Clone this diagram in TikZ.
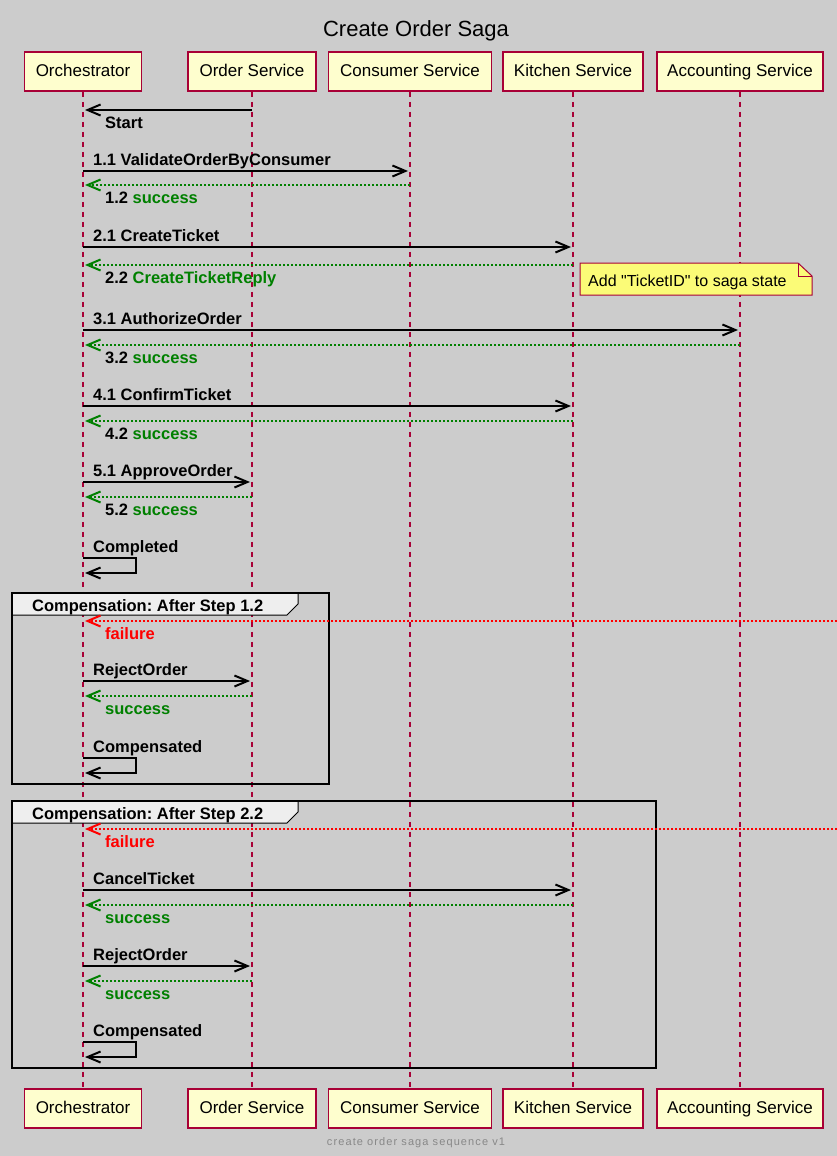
\documentclass[tikz,border=0pt]{standalone}
\usepackage{fontspec}
\setmainfont{Liberation Sans}
\newfontfamily\notefont{Liberation Sans}[Ligatures=TeXOff]
\usetikzlibrary{arrows.meta,calc}
\definecolor{umlred}{HTML}{A80036}
\definecolor{umlbox}{HTML}{FEFECE}
\definecolor{umlnote}{HTML}{FBFB77}
\definecolor{umlbg}{HTML}{CCCCCC}
\definecolor{umlgreen}{HTML}{008000}
\definecolor{umltab}{HTML}{EEEEEE}
\definecolor{umlfoot}{HTML}{888888}
\tikzset{>={Straight Barb[length=13pt,width=11pt,line width=2pt]}}
\tikzstyle{actor}=[rectangle,draw=umlred,fill=umlbox,line width=1.5pt,minimum height=39pt,inner sep=0pt,text height=12.5pt,text depth=3.5pt,font=\fontsize{17}{20}\selectfont]
\tikzstyle{lifeline}=[color=umlred,line width=1.2pt,dash pattern=on 5pt off 5pt]
\tikzstyle{call}=[->,color=black,line width=1.2pt,shorten >=2pt]
\tikzstyle{reply}=[->,color=umlgreen,line width=1.2pt,dash pattern=on 2pt off 2pt,shorten >=2pt]
\tikzstyle{fail}=[->,color=red,line width=1.2pt,dash pattern=on 2pt off 2pt,shorten >=2pt]
\tikzstyle{lbl}=[anchor=base west,inner sep=0pt,font=\fontsize{16.5}{19}\selectfont\bfseries]
\tikzstyle{grouptab}=[draw=black,fill=umltab,line width=1pt]
\tikzstyle{groupframe}=[draw=black,line width=2.2pt]

\begin{document}
\frenchspacing
\begin{tikzpicture}[x=1pt,y=-1pt]
	\fill[umlbg] (0,0) rectangle (837,1156);
	\useasboundingbox (0,0) rectangle (837,1156);

	\node[font=\fontsize{22}{26}\selectfont] (title) at (416,30.5) {Create Order Saga};

	% participants, top and bottom
	\foreach \name/\x/\w/\txt in {orch/83/117/Orchestrator, order/252/128/Order Service, consumer/410/163/Consumer Service, kitchen/573/140/Kitchen Service, accounting/740/166/Accounting Service} {
		\node[actor,minimum width=\w pt] (\name T) at (\x,71.5) {\txt};
		\node[actor,minimum width=\w pt] (\name B) at (\x,1108.5) {\txt};
	}
	\foreach \name in {orch,order,consumer,kitchen,accounting}
		\draw[lifeline] (\name T) -- (\name B);

	% message rows on every lifeline
	\foreach \p/\x in {o/83, s/252, c/410, k/573, a/740}
		\foreach \y in {110,171,185,247,265,330,345,406,421,482,497,558,573,621,681,696,758,773,829,890,905,966,981,1042,1057}
			\coordinate (\p\y) at (\x,\y);
	\coordinate (edge621) at (837,621);
	\coordinate (edge829) at (837,829);

	% main flow
	\draw[call] (s110) -- (o110);
	\node[lbl] (start) at (105,128) {Start};

	\draw[call] (o171) -- (c171);
	\node[lbl] (m11) at (93,165) {1.1 ValidateOrderByConsumer};
	\draw[reply] (c185) -- (o185);
	\node[lbl] (m12) at (105,203) {1.2 \textcolor{umlgreen}{success}};

	\draw[call] (o247) -- (k247);
	\node[lbl] (m21) at (93,241) {2.1 CreateTicket};
	\draw[reply] (k265) -- (o265);
	\node[lbl] (m22) at (105,283) {2.2 \textcolor{umlgreen}{CreateTicketReply}};

	\draw[draw=umlred,fill=umlnote,line width=1pt] (580,263) -- (798,263) -- (812,276) -- (812,295) -- (580,295) -- cycle;
	\draw[draw=umlred,line width=1pt] (798,263) -- (798,276) -- (812,276);
	\node[anchor=base west,inner sep=0pt,font=\notefont\fontsize{16}{19}\selectfont] (ticketnote) at (588,286) {Add "TicketID" to saga state};

	\draw[call] (o330) -- (a330);
	\node[lbl] (m31) at (93,324) {3.1 AuthorizeOrder};
	\draw[reply] (a345) -- (o345);
	\node[lbl] (m32) at (105,363) {3.2 \textcolor{umlgreen}{success}};

	\draw[call] (o406) -- (k406);
	\node[lbl] (m41) at (93,400) {4.1 ConfirmTicket};
	\draw[reply] (k421) -- (o421);
	\node[lbl] (m42) at (105,439) {4.2 \textcolor{umlgreen}{success}};

	\draw[call] (o482) -- (s482);
	\node[lbl] (m51) at (93,476) {5.1 ApproveOrder};
	\draw[reply] (s497) -- (o497);
	\node[lbl] (m52) at (105,515) {5.2 \textcolor{umlgreen}{success}};

	\draw[call] (o558) -- ++(53,0) |- (o573);
	\node[lbl] (done) at (93,552) {Completed};

	% compensation after 1.2
	\draw[grouptab] (12,593) -- (298,593) -- (298,604) -- (287,615) -- (12,615) -- cycle;
	\draw[groupframe] (12,593) rectangle (329,784);
	\node[lbl] (comp1) at (32,611) {Compensation: After Step 1.2};

	\draw[fail] (edge621) -- (o621);
	\node[lbl,text=red] (fail1) at (105,639) {failure};
	\draw[call] (o681) -- (s681);
	\node[lbl] (reject1) at (93,675) {RejectOrder};
	\draw[reply] (s696) -- (o696);
	\node[lbl,text=umlgreen] (ok1) at (105,714) {success};
	\draw[call] (o758) -- ++(53,0) |- (o773);
	\node[lbl] (undone1) at (93,752) {Compensated};

	% compensation after 2.2
	\draw[grouptab] (12,801) -- (298,801) -- (298,812) -- (287,823) -- (12,823) -- cycle;
	\draw[groupframe] (12,801) rectangle (656,1068);
	\node[lbl] (comp2) at (32,819) {Compensation: After Step 2.2};

	\draw[fail] (edge829) -- (o829);
	\node[lbl,text=red] (fail2) at (105,847) {failure};
	\draw[call] (o890) -- (k890);
	\node[lbl] (cancel2) at (93,884) {CancelTicket};
	\draw[reply] (k905) -- (o905);
	\node[lbl,text=umlgreen] (ok2) at (105,923) {success};
	\draw[call] (o966) -- (s966);
	\node[lbl] (reject2) at (93,960) {RejectOrder};
	\draw[reply] (s981) -- (o981);
	\node[lbl,text=umlgreen] (ok3) at (105,999) {success};
	\draw[call] (o1042) -- ++(53,0) |- (o1057);
	\node[lbl] (undone2) at (93,1036) {Compensated};

	\node[font=\fontsize{11}{13}\selectfont\addfontfeature{LetterSpace=10},text=umlfoot] (footer) at (416,1143) {create order saga sequence v1};
\end{tikzpicture}
\end{document}
